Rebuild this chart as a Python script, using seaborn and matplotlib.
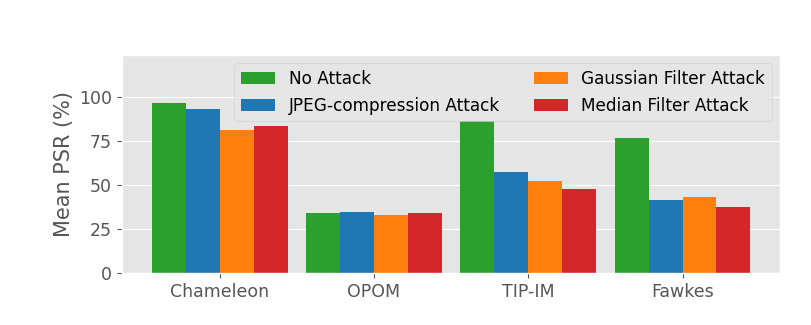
import matplotlib
matplotlib.use("Agg")
import matplotlib.pyplot as plt
import seaborn as sns
import pandas as pd

plt.style.use("ggplot")
plt.rcParams["font.size"] = 12.5
plt.rcParams["font.family"] = ["DejaVu Sans"]

methods = ["Chameleon", "OPOM", "TIP-IM", "Fawkes"]
attacks = ["No Attack", "JPEG-compression Attack", "Gaussian Filter Attack", "Median Filter Attack"]
no_attack = [96.8, 34.1, 86.7, 76.5]
jpeg_attack = [93.2, 34.5, 57.2, 41.7]
gaussian_attack = [81.2, 33.1, 52.1, 43.2]
median_attack = [83.7, 33.9, 47.7, 37.3]
colors = ["#2ca02c", "#1f77b4", "#ff7f0e", "#d62728"]

rows = []
for attack, vals in zip(attacks, [no_attack, jpeg_attack, gaussian_attack, median_attack]):
    for m, v in zip(methods, vals):
        rows.append({"Method": m, "Attack": attack, "PSR": v})
df = pd.DataFrame(rows)

fig = plt.figure(figsize=(8.12, 3.25), dpi=100)
ax = fig.add_axes([0.150, 0.160, 0.811, 0.671])

sns.barplot(data=df, x="Method", y="PSR", hue="Attack", order=methods,
            hue_order=attacks, palette=colors, width=0.88, gap=0,
            saturation=1, errorbar=None, linewidth=0, ax=ax)

ax.set_xlim(-0.634, 3.634)
ax.set_ylim(0, 124)
ax.set_yticks([0, 25, 50, 75, 100])
ax.set_xlabel("")
ax.set_ylabel("Mean PSR (%)", fontsize=15)
ax.legend(ncol=2, loc="upper right", fontsize=12.2)

fig.savefig("out.png", dpi=100)
